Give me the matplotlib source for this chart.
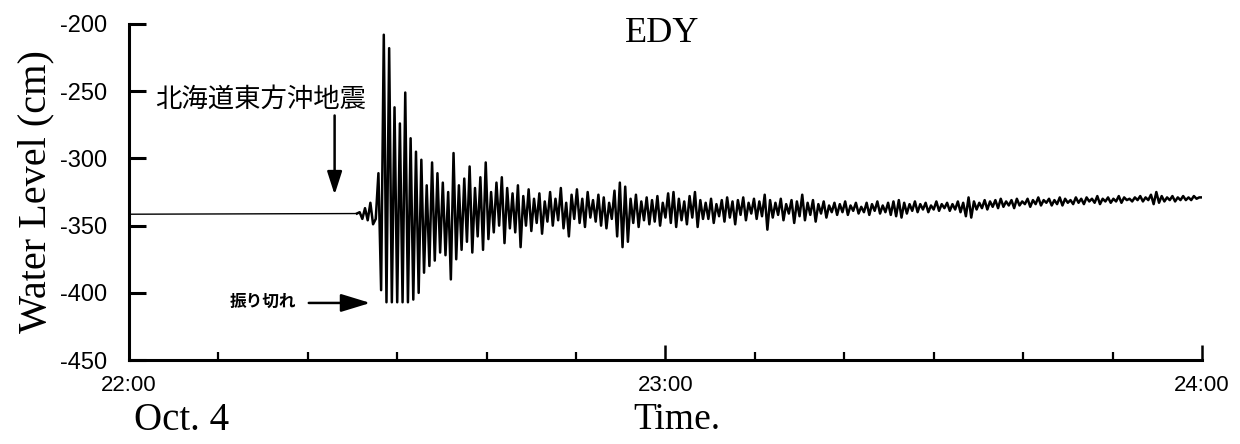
import numpy as np
import matplotlib
matplotlib.use("Agg")
from matplotlib import pyplot as plt
from matplotlib.ticker import MultipleLocator

# water level record at EDY, Oct. 4, minutes after 22:00
quiet_minutes = [0.0, 25.5]
quiet_level = [-341.5, -341.0]

# after the quake, one reading every 0.3 min from 25.5 min on
record_start = 25.5
record_step = 0.3
level = [
    -341, -340, -345, -337, -346, -333, -349, -345, -311, -398,
    -208, -407, -218, -407, -262, -407, -274, -407, -251, -407,
    -285, -405, -295, -400, -301, -385, -320, -380, -303, -376,
    -311, -370, -318, -372, -325, -390, -296, -375, -320, -368,
    -315, -362, -306, -370, -322, -358, -314, -368, -303, -360,
    -325, -355, -318, -350, -314, -363, -322, -352, -326, -355,
    -320, -366, -328, -350, -323, -354, -330, -348, -326, -356,
    -332, -347, -325, -350, -330, -346, -322, -352, -333, -358,
    -327, -345, -323, -348, -330, -351, -325, -344, -331, -347,
    -327, -350, -329, -352, -333, -345, -324, -358, -318, -366,
    -321, -362, -330, -348, -327, -351, -332, -346, -329, -349,
    -331, -347, -328, -350, -333, -344, -326, -348, -325, -351,
    -330, -346, -332, -349, -328, -344, -325, -351, -331, -345,
    -333, -345, -330, -348, -334, -343, -331, -347, -329, -344,
    -332, -349, -331, -342, -329, -346, -333, -341, -330, -345,
    -332, -343, -327, -353, -331, -344, -333, -342, -330, -346,
    -334, -341, -331, -348, -332, -343, -327, -346, -333, -342,
    -331, -347, -334, -341, -332, -344, -335, -340, -333, -342,
    -334, -340, -332, -342, -335, -339, -333, -341, -336, -340,
    -333, -342, -334, -339, -332, -341, -335, -340, -333, -342,
    -332, -343, -331, -344, -333, -341, -334, -339, -332, -340,
    -334, -338, -333, -340, -335, -338, -332, -339, -334, -337,
    -333, -339, -334, -338, -332, -340, -333, -343, -329, -344,
    -332, -338, -333, -337, -331, -338, -332, -336, -331, -337,
    -330, -336, -332, -335, -331, -337, -330, -335, -332, -334,
    -330, -336, -331, -334, -329, -335, -331, -333, -330, -335,
    -331, -334, -329, -335, -330, -333, -331, -334, -329, -333,
    -330, -334, -329, -332, -330, -333, -328, -334, -330, -332,
    -329, -333, -330, -332, -328, -333, -329, -331, -330, -332,
    -329, -331, -328, -332, -329, -331, -327, -334, -325, -333,
    -328, -332, -329, -331, -328, -332, -329, -331, -328, -331,
    -329, -331, -328, -330, -329, -329,
]

x_ticks = [0, 60, 120]
x_labels = ["22:00", "23:00", "24:00"]
y_ticks = [-450, -400, -350, -300, -250, -200]

minutes = record_start + record_step * np.arange(len(level))

serif = "Liberation Serif"
sans = "Liberation Sans"
jp = ["Noto Sans CJK JP", "DejaVu Sans"]

fig = plt.figure(figsize=(12.4, 4.44), dpi=100)
ax = fig.add_axes([0.104, 0.189, 0.8653, 0.757])

ax.plot(quiet_minutes, quiet_level, color="black", lw=1.0)
ax.plot(minutes, level, color="black", lw=1.8)

ax.set_xlim(0, 120)
ax.set_ylim(-450, -200)
for side in ["top", "right"]:
    ax.spines[side].set_visible(False)
for side in ["left", "bottom"]:
    ax.spines[side].set_linewidth(2.2)

ax.set_yticks(y_ticks)
ax.set_yticklabels([str(v) for v in y_ticks], fontfamily=sans, fontsize=17)
ax.tick_params(axis="y", direction="in", length=12, width=2.2, pad=16)

ax.set_xticks(x_ticks)
ax.set_xticklabels(x_labels, fontfamily=sans, fontsize=16)
ax.xaxis.set_minor_locator(MultipleLocator(10))
ax.tick_params(axis="x", which="major", direction="in", length=11, width=1.8, pad=11)
ax.tick_params(axis="x", which="minor", direction="in", length=6, width=1.6)

ax.set_ylabel("Water Level (cm)", fontfamily=serif, fontsize=29, labelpad=4)
ax.text(59.6, -207, "EDY", fontfamily=serif, fontsize=26, ha="center", va="center")

fig.text(0.108, 0.054, "Oct. 4", fontfamily=serif, fontsize=28, va="center")
fig.text(0.511, 0.054, "Time.", fontfamily=serif, fontsize=27, va="center")

# earthquake marker
ax.text(2.9, -256, "北海道東方沖地震", family=jp, fontsize=19, va="center")
ax.annotate("", xy=(23.0, -329), xytext=(23.0, -266),
            arrowprops=dict(arrowstyle="-|>,head_length=1.4,head_width=0.45",
                            color="black", lw=1.8))

# clipped readings marker
ax.text(11.3, -407, "振り切れ", family=jp, fontsize=12, fontweight="bold",
        va="center")
ax.annotate("", xy=(27.3, -407.5), xytext=(19.8, -407.5),
            arrowprops=dict(arrowstyle="-|>,head_length=1.8,head_width=0.55",
                            color="black", lw=1.8))

fig.savefig("out.png", dpi=100)
